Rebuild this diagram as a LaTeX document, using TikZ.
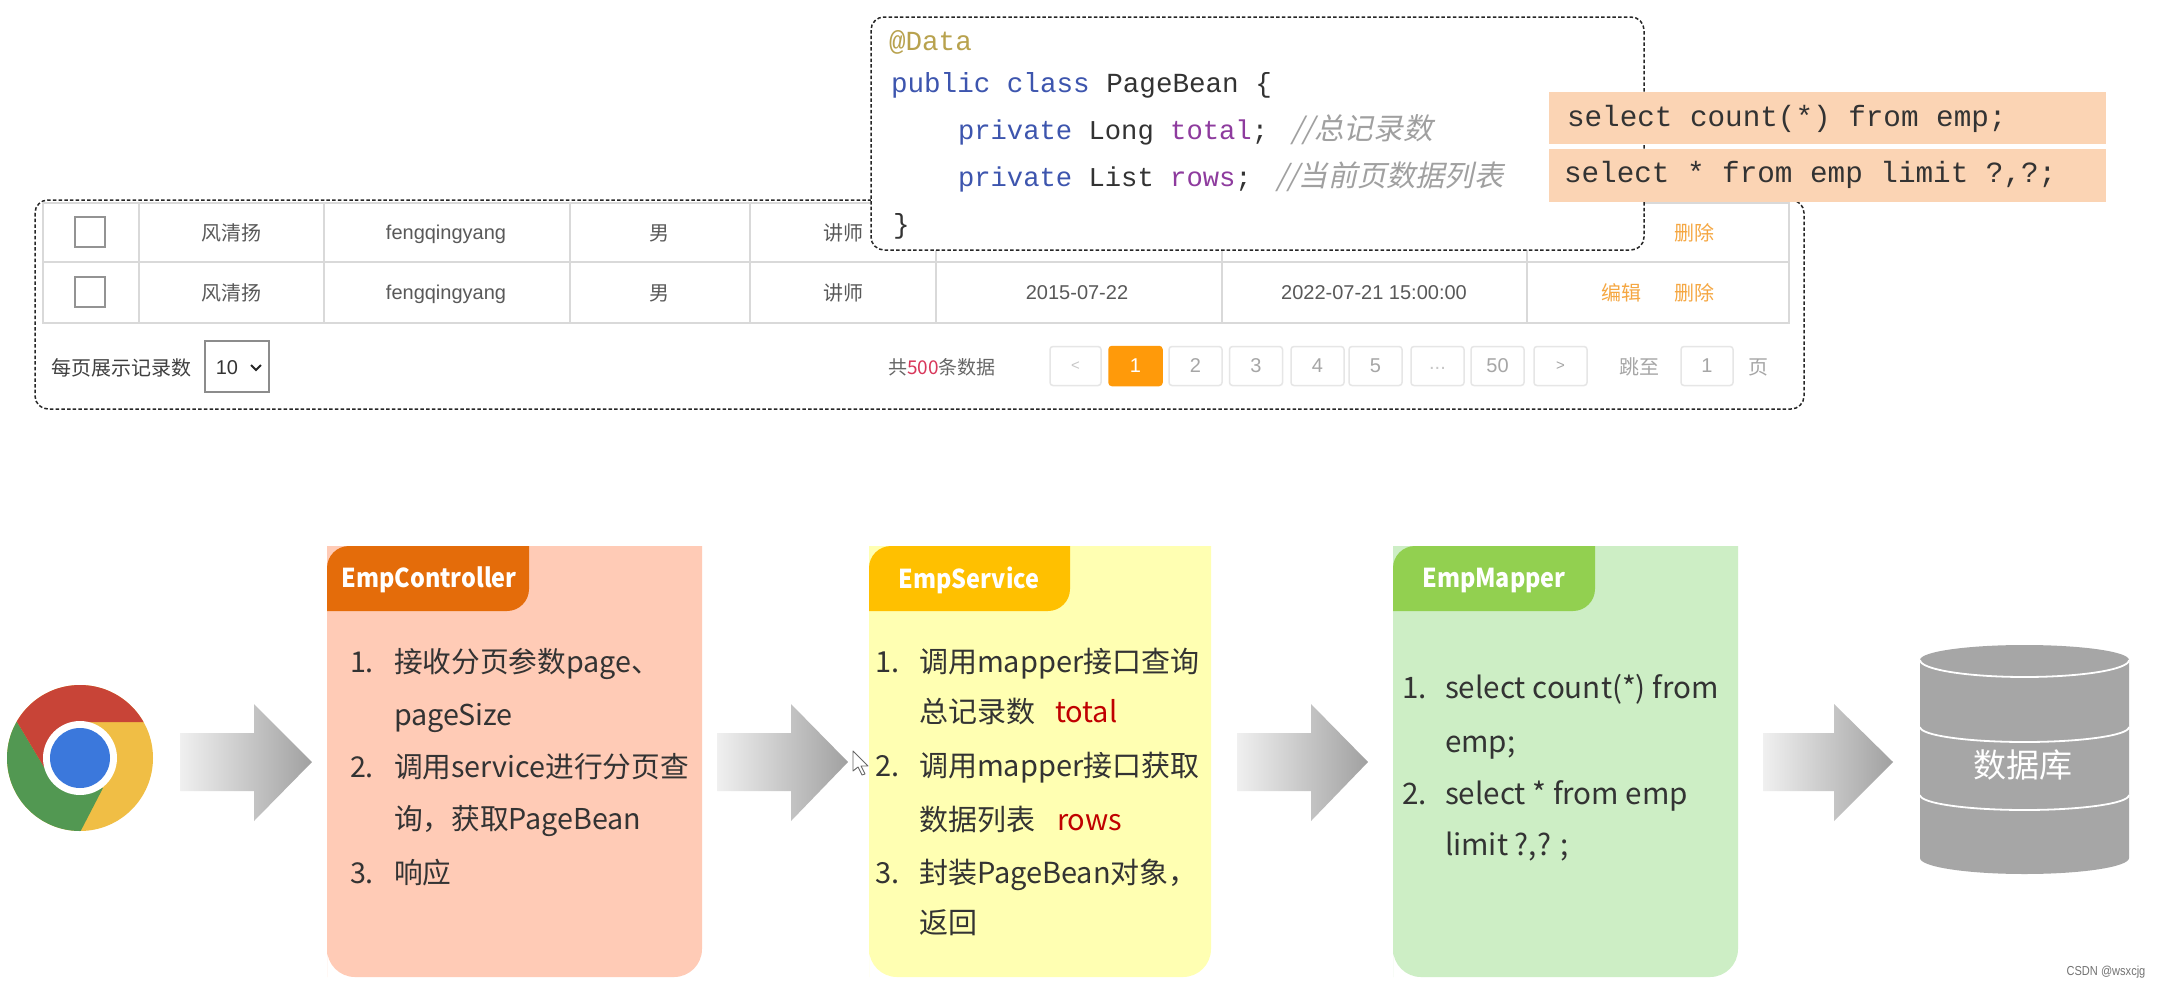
\documentclass[tikz,border=0pt]{standalone}
\usepackage{fontspec}
\setmainfont{Noto Sans CJK SC}
\newfontfamily\lsans{Liberation Sans}
\newfontfamily\lmono{Liberation Mono}
\newfontfamily\cjkslant[FakeSlant=0.22]{Noto Sans CJK SC}
\newfontfamily\titlef[FakeStretch=0.9]{Noto Sans CJK SC}
\newfontfamily\wmf[FakeStretch=0.85]{Liberation Sans}
\newcommand\fsz[1]{\fontsize{#1}{#1}\selectfont}
\definecolor{kwblue}{HTML}{3D55AE}
\definecolor{annot}{HTML}{B8A24E}
\definecolor{fieldp}{HTML}{8E3B9E}
\definecolor{cmt}{HTML}{A0A0A0}
\definecolor{sqlbg}{HTML}{FBD4B4}
\definecolor{gridc}{HTML}{D9D9D9}
\definecolor{tbltxt}{HTML}{595959}
\definecolor{linkor}{HTML}{F5A742}
\definecolor{btnb}{HTML}{E6E6E6}
\definecolor{btnt}{HTML}{A6A6A6}
\definecolor{btnact}{HTML}{FF9A0A}
\definecolor{cardtxt}{HTML}{333333}
\definecolor{redtxt}{HTML}{C00000}
\definecolor{dbgray}{HTML}{A6A6A6}
\tikzset{
  every node/.style={inner sep=0pt,outer sep=0pt},
  dashbox/.style={draw=black!85,line width=1.5pt,dash pattern=on 3.5pt off 2.2pt,rounded corners=13pt},
  codeline/.style={anchor=base west,font=\fsz{27.6}\lmono,text=black!80},
  fieldline/.style={anchor=base west,font=\fsz{27.2}\lmono,text=black!80},
  sqlbox/.style={fill=sqlbg,draw=none},
  sqlline/.style={anchor=base west,font=\fsz{29.3}\lmono,text=black!80},
  celltext/.style={anchor=base,font=\fsz{20}\lsans,text=tbltxt},
  celllink/.style={anchor=base,font=\fsz{20},text=linkor},
  pagebtn/.style={draw=btnb,line width=1.5pt,rounded corners=3pt,fill=white,minimum height=39pt,text=btnt,font=\fsz{20}\lsans,anchor=center},
  pagetext/.style={anchor=center,font=\fsz{20},text=btnt},
  itemline/.style={anchor=base west,font=\fsz{29},text=cardtxt},
  ctrline/.style={anchor=base west,font=\fsz{28.7},text=cardtxt},
  mapline/.style={anchor=base west,font=\fsz{29.6},text=cardtxt},
  cardtitle/.style={anchor=center,font=\fsz{26}\titlef\bfseries,text=white},
  checkbox/.style={draw=gray!85,line width=1.5pt,fill=white,minimum width=30pt,minimum height=30pt,anchor=center},
}
\newcommand\cardshape[7]{% x0, x1, xh, card col, head col, title x, title
  \fill[#4] (#1,977) -- (#1,546) -- (#2,546) [rounded corners=28pt] -- (#2,977) -- (#1,977) [sharp corners] -- cycle;
  \fill[#5] (#1,611) [rounded corners=22pt] -- (#1,546) [sharp corners] -- (#3,546) [rounded corners=22pt] -- (#3,611) [sharp corners] -- cycle;
  \node[cardtitle] (title#7) at (#6,580) {#7};
}
\newcommand\blockarrow[3]{% x0, base, tip
  \shade[left color=black!6,right color=black!37] (#1,733) -- (#2,733) -- (#2,704) -- (#3,762) -- (#2,821) -- (#2,791) -- (#1,791) -- cycle;
}
\begin{document}
\begin{tikzpicture}[x=1pt,y=-1pt]
\useasboundingbox (0,0) rectangle (2160,988);
\fill[white] (0,0) rectangle (2160,988);

% ---- table area
\draw[dashbox] (35,200) rectangle (1804,409);
\draw[gridc,line width=2pt] (43,203) rectangle (1789,323);
\draw[gridc,line width=2pt] (43,262) -- (1789,262);
\foreach \cx in {139,324,570,750,936,1222,1527}
  \draw[gridc,line width=1.6pt] (\cx,203) -- (\cx,323);
\node[checkbox] (chkA) at (90,232) {};
\node[checkbox] (chkB) at (90,292) {};
\node[celltext,font=\fsz{20}] (nameA) at (231,240) {风清扬};
\node[celltext,font=\fsz{20}] (nameB) at (231,300) {风清扬};
\node[celltext] (userA) at (446,239) {fengqingyang};
\node[celltext] (userB) at (446,299) {fengqingyang};
\node[celltext,font=\fsz{20}] (sexA) at (659,240) {男};
\node[celltext,font=\fsz{20}] (sexB) at (659,300) {男};
\node[celltext,font=\fsz{20}] (jobA) at (843,240) {讲师};
\node[celltext,font=\fsz{20}] (jobB) at (843,300) {讲师};
\node[celltext] (dateB) at (1077,299) {2015-07-22};
\node[celltext] (timeB) at (1374,299) {2022-07-21 15:00:00};
\node[celllink] (delA) at (1694,240) {删除};
\node[celllink] (editB) at (1621,300) {编辑};
\node[celllink] (delB) at (1694,300) {删除};

% ---- page size
\node[anchor=center,font=\fsz{20},text=black!75] (perpage) at (121,368) {每页展示记录数};
\draw[gray!90,line width=1.5pt] (205,341) rectangle (269,392);
\node[anchor=center,font=\fsz{20}\lsans,text=black!80] (sizeval) at (227,368) {10};
\draw[black!85,line width=2pt] (251,365) -- (256,370) -- (261,365);

% ---- pagination
\node[anchor=base west,font=\fsz{19},text=black!60] (totaltxt) at (888,374) {共\textcolor[HTML]{D8365A}{500}条数据};
\node[pagebtn,minimum width=51pt,font=\fsz{15}\lsans] (pprev) at (1075.5,366) {\raisebox{-3pt}{\textcolor{btnb!70!gray}{<}}};
\node[pagebtn,minimum width=53pt,fill=btnact,draw=btnact,text=white] (pone) at (1135.5,366) {1};
\node[pagebtn,minimum width=53pt] (ptwo) at (1195.5,366) {2};
\node[pagebtn,minimum width=53pt] (pthree) at (1256,366) {3};
\node[pagebtn,minimum width=53pt] (pfour) at (1317.5,366) {4};
\node[pagebtn,minimum width=53pt] (pfive) at (1375.5,366) {5};
\node[pagebtn,minimum width=53pt,text=btnb!70!gray] (pdots) at (1437.5,366) {\raisebox{-7pt}{...}};
\node[pagebtn,minimum width=53pt] (pfifty) at (1497.5,366) {50};
\node[pagebtn,minimum width=53pt,font=\fsz{15}\lsans] (pnext) at (1560.5,366) {\raisebox{-3pt}{>}};
\node[pagetext] (jump) at (1639,367) {跳至};
\node[pagebtn,minimum width=52pt] (jumpval) at (1707,366) {1};
\node[pagetext] (pageword) at (1758,367) {页};

% ---- code box
\draw[dashbox,fill=white] (871,17) rectangle (1644,250);
\node[codeline,text=annot] (cA) at (889,50) {@Data};
\node[codeline] (cB) at (891,92) {\textcolor{kwblue}{public class} PageBean \{};
\node[fieldline] (cC) at (958,139) {\textcolor{kwblue}{private} Long \textcolor{fieldp}{total};};
\node[anchor=base west,font=\fsz{29.6}\cjkslant,text=cmt] (cCc) at (1291,139) {//总记录数};
\node[fieldline] (cD) at (958,186) {\textcolor{kwblue}{private} List \textcolor{fieldp}{rows};};
\node[anchor=base west,font=\fsz{29.2}\cjkslant,text=cmt] (cDc) at (1276,186) {//当前页数据列表};
\node[codeline] (cE) at (893,233) {\}};

% ---- sql boxes
\fill[sqlbox] (1549,92) rectangle (2106,144);
\fill[sqlbox] (1549,149) rectangle (2106,202);
\node[sqlline] (sqlA) at (1567,126) {select count(*) from emp;};
\node[sqlline] (sqlB) at (1564,182) {select * from emp limit ?,?;};

% ---- chrome logo
\begin{scope}
  \clip (80,758) circle (73);
  \fill[fill={rgb,255:red,240;green,190;blue,69}] (0,670) rectangle (160,840);
  \fill[fill={rgb,255:red,82;green,152;blue,82}] (44,767) -- (10,710) -- (0,710) -- (0,840) -- (76,840) -- (103,788) -- cycle;
  \fill[fill={rgb,255:red,200;green,68;blue,55}] (44,767) -- (10,710) -- (10,680) -- (160,680) -- (160,722) -- (80,722) -- cycle;
\end{scope}
\fill[white] (80,758) circle (37);
\fill[fill={rgb,255:red,59;green,120;blue,220}] (80,758) circle (30);

% ---- arrows
\blockarrow{180}{254}{312}
\blockarrow{717}{791}{848}
\blockarrow{1237}{1311}{1368}
\blockarrow{1763}{1834}{1893}

% ---- cards
\definecolor{cardA}{HTML}{FFCBB6}\definecolor{headA}{HTML}{E46C0A}
\definecolor{cardB}{HTML}{FFFFB2}\definecolor{headB}{HTML}{FFC000}
\definecolor{cardC}{HTML}{CDEEC5}\definecolor{headC}{HTML}{92D050}
\cardshape{327}{702}{529}{cardA}{headA}{429}{EmpController}
\cardshape{869}{1211}{1070}{cardB}{headB}{969}{EmpService}
\cardshape{1393}{1738}{1595}{cardC}{headC}{1494}{EmpMapper}

\node[ctrline] (aN1) at (350,672) {1.};
\node[ctrline] (aT1) at (394,672) {接收分页参数page、};
\node[ctrline] (aT2) at (394,725) {pageSize};
\node[ctrline] (aN2) at (350,777) {2.};
\node[ctrline] (aT3) at (394,777) {调用service进行分页查};
\node[ctrline] (aT4) at (394,829) {询，获取PageBean};
\node[ctrline] (aN3) at (350,883) {3.};
\node[ctrline] (aT5) at (394,883) {响应};

\node[itemline] (bN1) at (875,672) {1.};
\node[itemline] (bT1) at (919,672) {调用mapper接口查询};
\node[itemline] (bT2) at (919,722) {总记录数};
\node[itemline,text=redtxt] (bR1) at (1055,722) {total};
\node[itemline] (bN2) at (875,776) {2.};
\node[itemline] (bT3) at (919,776) {调用mapper接口获取};
\node[itemline] (bT4) at (919,830) {数据列表};
\node[itemline,text=redtxt] (bR2) at (1057,830) {rows};
\node[itemline] (bN3) at (875,883) {3.};
\node[itemline] (bT5) at (919,883) {封装PageBean对象，};
\node[itemline] (bT6) at (919,933) {返回};

\node[mapline] (cN1) at (1402,698) {1.};
\node[mapline] (cT1) at (1445,698) {select count(*) from};
\node[mapline] (cT2) at (1445,752) {emp;};
\node[mapline] (cN2) at (1402,804) {2.};
\node[mapline] (cT3) at (1445,804) {select * from emp};
\node[mapline] (cT4) at (1445,855) {limit ?,? ;};

% ---- cursor
\draw[fill=white,draw=black!60,line width=0.9pt,line join=round] (853,751) -- (853,771) -- (858,767) -- (862,775) -- (865,774) -- (861,766) -- (868,766) -- cycle;

% ---- database
\fill[dbgray] (1920,660) arc[start angle=180,end angle=0,x radius=104.5,y radius=-15] -- (2129,858) arc[start angle=0,end angle=-180,x radius=104.5,y radius=-16] -- cycle;
\draw[white,line width=1.8pt] (1920,660) arc[start angle=180,end angle=360,x radius=104.5,y radius=-17];
\draw[white,line width=1.8pt] (1920,727) arc[start angle=180,end angle=360,x radius=104.5,y radius=-15];
\draw[white,line width=1.8pt] (1920,795) arc[start angle=180,end angle=360,x radius=104.5,y radius=-15];
\node[anchor=center,font=\fsz{33},text=white] (dbname) at (2023,765) {数据库};

% ---- watermark
\node[anchor=center,font=\fsz{13}\wmf,text=black!55] (mark) at (2106,972) {CSDN @wsxcjg};
\end{tikzpicture}
\end{document}
